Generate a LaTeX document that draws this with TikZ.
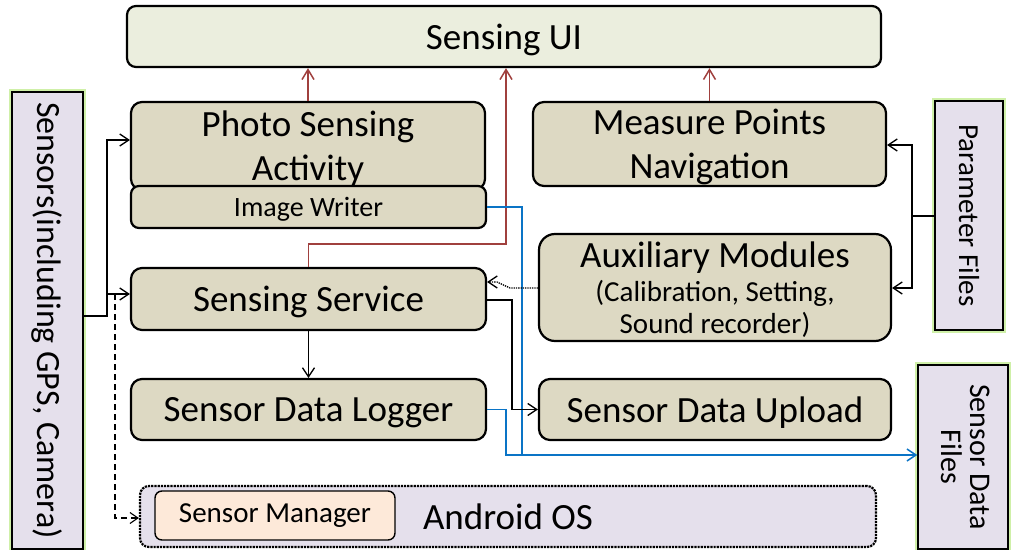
\documentclass[tikz,border=0pt]{standalone}
\usepackage{fontspec}
\setmainfont{Carlito}
\usetikzlibrary{arrows.meta}
\definecolor{tanfill}{HTML}{DDD9C3}
\definecolor{uifill}{HTML}{EBEEDE}
\definecolor{lav}{HTML}{E5E0EC}
\definecolor{peach}{HTML}{FDE9D9}
\definecolor{redc}{HTML}{A0403E}
\definecolor{bluec}{HTML}{0A74C6}
\definecolor{glowc}{HTML}{CFF0A8}
\begin{document}
\begin{tikzpicture}[x=1pt,y=-1pt,
  box/.style={draw=black, line width=2.2pt, fill=tanfill, rounded corners=11pt, inner sep=0pt, align=center, text depth=0pt, font=\fontsize{37}{44}\selectfont},
  sidebox/.style={draw=black, line width=1.4pt, fill=lav, inner sep=0pt, align=center,
     preaction={draw=glowc, line width=6pt}},
  blk/.style={draw=black, line width=1.3pt, -{Straight Barb[length=9pt,width=12pt]}},
  blkline/.style={draw=black, line width=1.3pt},
  redarr/.style={draw=redc, line width=1.5pt, -{Straight Barb[length=10pt,width=12pt]}},
  bluearr/.style={draw=bluec, line width=1.5pt, -{Straight Barb[length=9pt,width=12pt]}},
  blueline/.style={draw=bluec, line width=1.5pt},
  dashblk/.style={draw=black, line width=1.1pt, dash pattern=on 6pt off 4pt, -{Straight Barb[length=8pt,width=11pt]}},
  dotblk/.style={draw=black, line width=1.3pt, densely dotted, -{Straight Barb[length=9pt,width=12pt]}}
]
\useasboundingbox (0,0) rectangle (1012,549);

% side boxes
\node[sidebox, minimum width=71pt, minimum height=457pt] (sensors) at (47.5,320.5)
  {\rotatebox{-90}{\fontsize{34}{40}\selectfont Sensors(including GPS, Camera)}};
\node[sidebox, minimum width=68pt, minimum height=229pt] (par) at (969,215.5)
  {\rotatebox{-90}{\fontsize{29}{34}\selectfont Parameter Files}};
\node[sidebox, minimum width=90pt, minimum height=184pt] (sdf) at (963,457)
  {\rotatebox{-90}{\fontsize{30}{33}\selectfont\begin{tabular}{@{}c@{}}Sensor Data\\[-4pt]Files\end{tabular}}};

% main boxes
\node[box, fill=uifill, minimum width=754pt, minimum height=61pt, rounded corners=9pt] (ui) at (504,36.5) {Sensing UI};
\node[box, minimum width=354pt, minimum height=88pt] (photo) at (308,146) {Photo Sensing\\Activity};
\node[box, minimum width=355pt, minimum height=42pt, rounded corners=8pt, font=\fontsize{28}{32}\selectfont] (imgw) at (308.5,207) {Image Writer};
\node[box, minimum width=353pt, minimum height=84pt] (mpn) at (709.5,144) {Measure Points\\Navigation};
\node[box, minimum width=352pt, minimum height=107pt, rounded corners=16pt] (aux) at (715,287.5)
  {Auxiliary Modules\\[-10pt]{\fontsize{29}{32}\selectfont (Calibration, Setting,}\\[-12pt]{\fontsize{29}{32}\selectfont Sound recorder)}};
\node[box, minimum width=355pt, minimum height=62pt] (svc) at (308.5,299) {Sensing Service};
\node[box, minimum width=355pt, minimum height=61pt] (log) at (308.5,409.5) {Sensor Data Logger};
\node[box, minimum width=352pt, minimum height=61pt] (upl) at (715,409.5) {Sensor Data Upload};

% android
\node[draw=black, line width=2.2pt, densely dotted, fill=lav, rounded corners=9pt, minimum width=736pt, minimum height=61pt,
  font=\fontsize{37}{44}\selectfont] (andr) at (508,516.5) {Android OS};
\node[draw=black, line width=1.4pt, fill=peach, rounded corners=7pt, minimum width=240pt, minimum height=49pt,
  font=\fontsize{29}{34}\selectfont] (sm) at (275,515.5) {Sensor Manager};

% red connectors to UI
\coordinate (r1) at (506,244);
\draw[redarr] (photo.north) -- (photo.north |- ui.south);
\draw[redarr] (mpn.north) -- (mpn.north |- ui.south);
\draw[redarr] (svc.north) |- (r1) -- (r1 |- ui.south);

% blue connectors to sensor data files
\coordinate (b1) at (522,455);
\coordinate (b2) at (506,455);
\draw[bluearr] (imgw.east) -| (b1) -- (b1 -| sdf.west);
\draw[blueline] (log.east) -| (b2) -- (b1);

% sensors
\coordinate (s1) at (107,316);
\coordinate (s2) at (107,140);
\coordinate (s3) at (107,294);
\coordinate (d1) at (115,294);
\coordinate (d2) at (115,518);
\draw[blk] (s1 -| sensors.east) -- (s1) -- (s2) -- (s2 -| photo.west);
\draw[blk] (s1) -- (s3) -- (s3 -| svc.west);
\draw[dashblk] (d1) -- (d2) -- (d2 -| andr.west);

% parameter files
\coordinate (p1) at (912,216);
\coordinate (p2) at (912,145);
\coordinate (p3) at (912,288);
\draw[blk] (p1 -| par.west) -- (p1) -- (p2) -- (p2 -| mpn.east);
\draw[blk] (p1) -- (p3) -- (p3 -| aux.east);

% service connections
\coordinate (u1) at (512,300);
\draw[blk] (u1 -| svc.east) -- (u1) |- (upl.west);
\draw[blk] (svc.south) -- (log.north);
\coordinate (q1) at (510,288);
\coordinate (q2) at (497,282);
\draw[dotblk] (q1 -| aux.west) -- (q1) -- (q2) -- (q2 -| svc.east);
\end{tikzpicture}
\end{document}
